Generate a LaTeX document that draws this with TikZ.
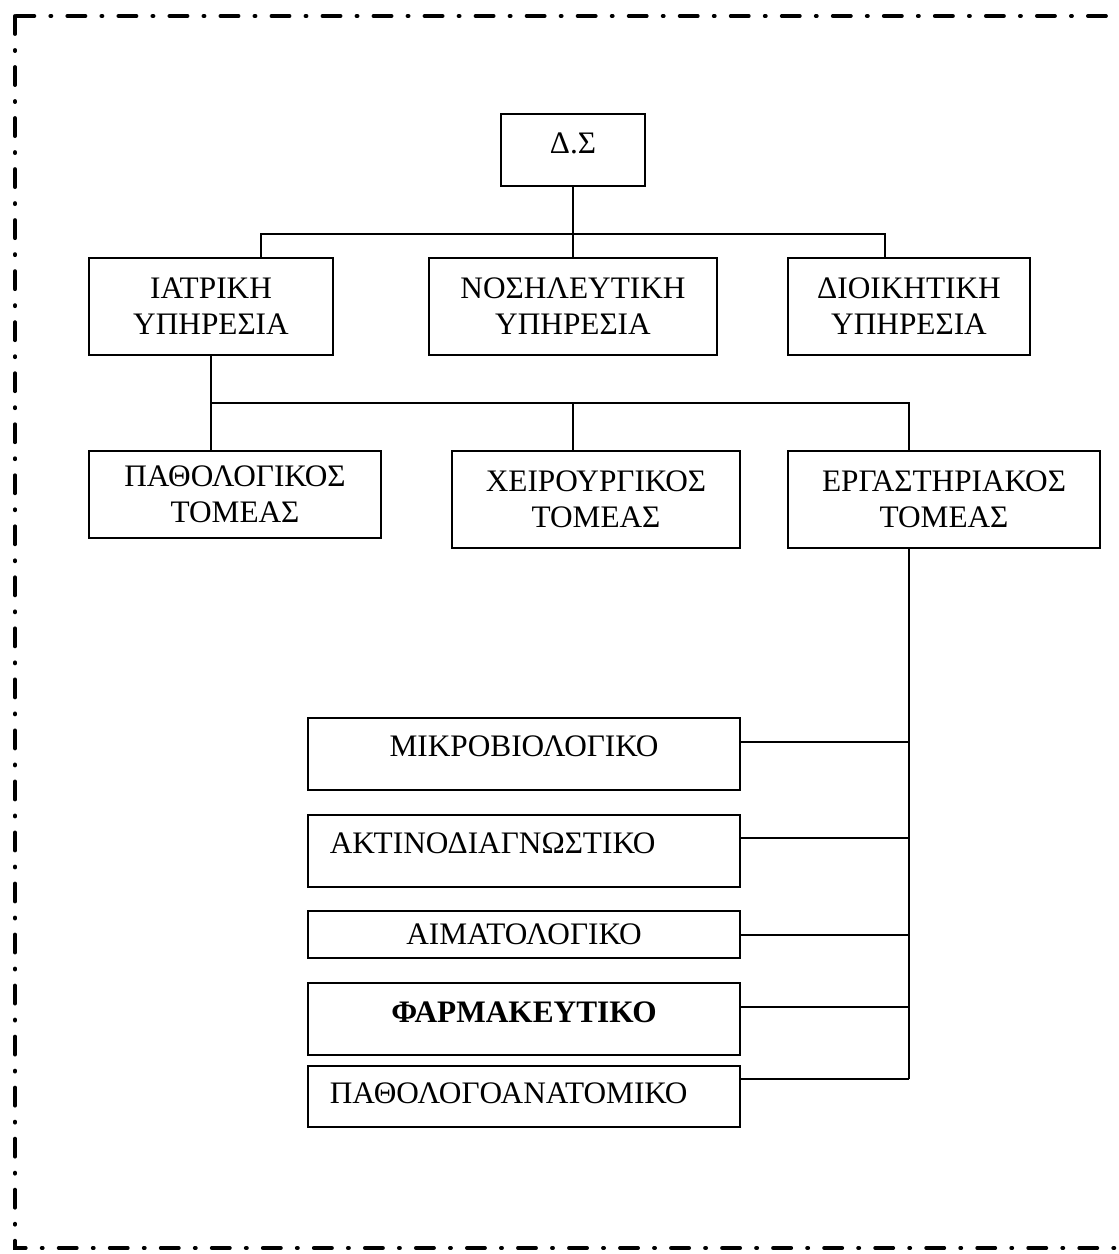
\documentclass[tikz,border=0pt]{standalone}
\usepackage{fontspec}
\setmainfont{Liberation Serif}
\usetikzlibrary{positioning}

\begin{document}
\begin{tikzpicture}[x=0.01cm, y=-0.01cm,
        box/.style={rectangle, draw, line width=0.5pt, align=center, inner sep=0pt, font=\fontsize{8.9}{10.3}\selectfont},
        labbox/.style={box, minimum width=4.32cm},
        leftbox/.style={labbox, align=left, text width=3.88cm},
        link/.style={line width=0.5pt},
        frame/.style={line width=1.1pt, line cap=round, dash pattern=on 0.18cm off 0.16cm on 0.01cm off 0.16cm}
    ]
        \useasboundingbox (0,0) rectangle (1119,1254);
        \clip (0,0) rectangle (1119,1254);
        \draw[frame] (15,16) rectangle (1140,1248);

        \node[box, minimum width=1.44cm, minimum height=0.72cm, text depth=0.14cm] (ds) at (573,150) {Δ.Σ};

        \node[box, minimum width=2.44cm, minimum height=0.97cm] (iatr) at (211,306.5) {ΙΑΤΡΙΚΗ\\ΥΠΗΡΕΣΙΑ};
        \node[box, minimum width=2.88cm, minimum height=0.97cm] (nosil) at (573,306.5) {ΝΟΣΗΛΕΥΤΙΚΗ\\ΥΠΗΡΕΣΙΑ};
        \node[box, minimum width=2.42cm, minimum height=0.97cm] (dioik) at (909,306.5) {ΔΙΟΙΚΗΤΙΚΗ\\ΥΠΗΡΕΣΙΑ};

        \node[box, minimum width=2.92cm, minimum height=0.87cm] (pathol) at (235,494.5) {ΠΑΘΟΛΟΓΙΚΟΣ\\ΤΟΜΕΑΣ};
        \node[box, minimum width=2.88cm, minimum height=0.97cm] (cheir) at (596,499.5) {ΧΕΙΡΟΥΡΓΙΚΟΣ\\ΤΟΜΕΑΣ};
        \node[box, minimum width=3.12cm, minimum height=0.97cm] (ergast) at (944,499.5) {ΕΡΓΑΣΤΗΡΙΑΚΟΣ\\ΤΟΜΕΑΣ};

        % labs
        \node[labbox, minimum height=0.72cm, text depth=0.16cm] (mikro) at (524,754) {ΜΙΚΡΟΒΙΟΛΟΓΙΚΟ};
        \node[leftbox, minimum height=0.72cm, text depth=0.16cm] (aktin) at (524,851) {ΑΚΤΙΝΟΔΙΑΓΝΩΣΤΙΚΟ};
        \node[labbox, minimum height=0.47cm] (aimat) at (524,934.5) {ΑΙΜΑΤΟΛΟΓΙΚΟ};
        \node[labbox, minimum height=0.72cm, text depth=0.14cm, font=\fontsize{8.9}{10.3}\selectfont\bfseries] (farm) at (524,1019) {ΦΑΡΜΑΚΕΥΤΙΚΟ};
        \node[leftbox, minimum height=0.61cm, text depth=0.06cm] (pathan) at (524,1096.5) {ΠΑΘΟΛΟΓΟΑΝΑΤΟΜΙΚΟ};

        \coordinate (j1) at (261,234);
        \coordinate (j3) at (885,234);
        \coordinate (j4) at (909,403);
        \coordinate (j5) at (573,403);
        \coordinate (m1) at (909,742);
        \coordinate (m2) at (909,838);
        \coordinate (m3) at (909,935);
        \coordinate (m4) at (909,1007);
        \coordinate (m5) at (909,1079);

        \draw[link] (ds) -- (nosil);
        \draw[link] (iatr.north -| j1) -- (j1) -- (j3) -- (dioik.north -| j3);

        \draw[link] (iatr.south) |- (j4) -- (ergast.north -| j4);
        \draw[link] (iatr.south) -- (pathol.north -| iatr.south);
        \draw[link] (j5) -- (cheir.north -| j5);

        \draw[link] (ergast.south -| m5) -- (m5);
        \draw[link] (m1) -- (m1 -| mikro.east);
        \draw[link] (m2) -- (m2 -| aktin.east);
        \draw[link] (m3) -- (m3 -| aimat.east);
        \draw[link] (m4) -- (m4 -| farm.east);
        \draw[link] (m5) -- (m5 -| pathan.east);
    \end{tikzpicture}
\end{document}
